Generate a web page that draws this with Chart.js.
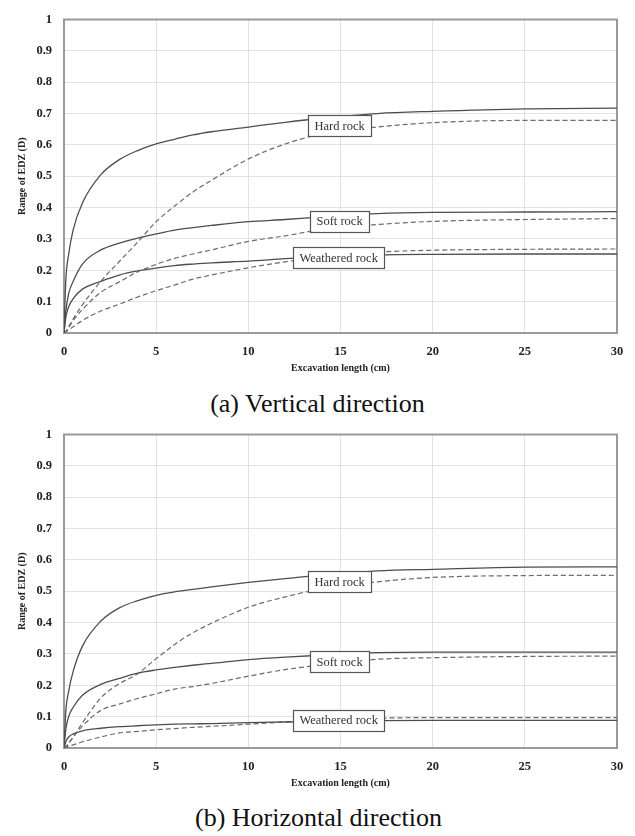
<!DOCTYPE html>
<html>
<head>
<meta charset="utf-8">
<script src="https://cdn.jsdelivr.net/npm/chart.js@4.4.1/dist/chart.umd.min.js"></script>
<style>
  html, body { margin: 0; padding: 0; background: #fff; }
  body { width: 635px; height: 836px; position: relative; overflow: hidden; }
  .wrap { position: absolute; left: 0; width: 635px; height: 380px; }
  .cap { position: absolute; left: 0; width: 635px; text-align: center; line-height: 26px;
         font-family: "Liberation Serif", "Times New Roman", serif; font-size: 26px; color: #111; }
</style>
</head>
<body>
<div class="wrap" style="top:0px"><canvas id="c1" width="635" height="380"></canvas></div>
<div class="cap" id="cap1" style="top:391px; left:0px">(a) Vertical direction</div>
<div class="wrap" style="top:415px"><canvas id="c2" width="635" height="380"></canvas></div>
<div class="cap" id="cap2" style="top:805px; left:1px">(b) Horizontal direction</div>
<script>
// ---- data ----
const excavation = [0, 0.1, 0.25, 0.5, 1, 2, 3, 4, 5, 6, 7, 8, 10, 12, 14, 17, 20, 25, 30];
const xTickLabels = ['0', '5', '10', '15', '20', '25', '30'];
const yTickLabels = ['0', '0.1', '0.2', '0.3', '0.4', '0.5', '0.6', '0.7', '0.8', '0.9', '1'];
const rockTypes = ['Hard rock', 'Soft rock', 'Weathered rock'];

// (a) Vertical direction
const hardV_solid = [0, 0.17, 0.25, 0.33, 0.415, 0.505, 0.553, 0.582, 0.603, 0.618, 0.632, 0.642, 0.657, 0.672, 0.685, 0.700, 0.707, 0.715, 0.717];
const hardV_dash  = [0, 0.005, 0.02, 0.045, 0.09, 0.165, 0.228, 0.29, 0.355, 0.405, 0.45, 0.487, 0.555, 0.603, 0.635, 0.657, 0.671, 0.678, 0.678];
const softV_solid = [0, 0.07, 0.125, 0.165, 0.22, 0.265, 0.287, 0.303, 0.316, 0.328, 0.336, 0.343, 0.355, 0.362, 0.37, 0.381, 0.385, 0.386, 0.387];
const softV_dash  = [0, 0.005, 0.018, 0.04, 0.075, 0.13, 0.163, 0.195, 0.219, 0.238, 0.252, 0.265, 0.292, 0.31, 0.33, 0.346, 0.356, 0.362, 0.365];
const weaV_solid  = [0, 0.05, 0.083, 0.11, 0.14, 0.165, 0.185, 0.198, 0.207, 0.215, 0.22, 0.224, 0.229, 0.237, 0.243, 0.249, 0.251, 0.252, 0.252];
const weaV_dash   = [0, 0.003, 0.01, 0.02, 0.04, 0.07, 0.092, 0.115, 0.135, 0.153, 0.172, 0.185, 0.208, 0.227, 0.243, 0.258, 0.264, 0.267, 0.268];

// (b) Horizontal direction
const hardH_solid = [0, 0.12, 0.18, 0.245, 0.325, 0.405, 0.447, 0.47, 0.487, 0.498, 0.506, 0.514, 0.528, 0.54, 0.552, 0.565, 0.57, 0.577, 0.578];
const hardH_dash  = [0, 0.004, 0.015, 0.035, 0.08, 0.16, 0.205, 0.237, 0.285, 0.33, 0.368, 0.398, 0.449, 0.482, 0.508, 0.53, 0.544, 0.55, 0.551];
const softH_solid = [0, 0.06, 0.1, 0.13, 0.168, 0.203, 0.222, 0.239, 0.249, 0.257, 0.264, 0.27, 0.282, 0.29, 0.296, 0.304, 0.306, 0.306, 0.306];
const softH_dash  = [0, 0.004, 0.015, 0.035, 0.07, 0.12, 0.14, 0.158, 0.173, 0.188, 0.196, 0.206, 0.229, 0.25, 0.265, 0.283, 0.288, 0.292, 0.293];
const weaH_solid  = [0, 0.02, 0.035, 0.045, 0.055, 0.063, 0.068, 0.071, 0.074, 0.076, 0.077, 0.078, 0.081, 0.083, 0.085, 0.087, 0.088, 0.088, 0.088];
const weaH_dash   = [0, 0.002, 0.006, 0.01, 0.02, 0.035, 0.048, 0.053, 0.058, 0.062, 0.066, 0.069, 0.076, 0.083, 0.089, 0.095, 0.097, 0.097, 0.097];

// label-box anchors (data coordinates)
const labelXV = [14.95, 14.95, 14.9];
const labelYV = [0.662, 0.357, 0.24];
const labelXH = [14.95, 14.95, 14.9];
const labelYH = [0.531, 0.275, 0.089];

// ---- helpers ----
const SERIF = '"Liberation Serif", "Times New Roman", serif';
function pts(ys) { return excavation.map((x, i) => ({ x: x, y: ys[i] })); }
function solid(label, ys) {
  return { label, data: pts(ys), borderColor: '#4d4d4d', borderWidth: 1.3, pointRadius: 0,
           cubicInterpolationMode: 'monotone', fill: false };
}
function dashed(label, ys) {
  return { label, data: pts(ys), borderColor: '#6a6a6a', borderWidth: 1.2, borderDash: [5, 3],
           pointRadius: 0, cubicInterpolationMode: 'monotone', fill: false };
}

const framePlugin = {
  id: 'frame',
  beforeDatasetsDraw(chart) {
    const a = chart.chartArea, ctx = chart.ctx;
    ctx.save();
    ctx.strokeStyle = '#9a9a9a';
    ctx.lineWidth = 2;
    ctx.strokeRect(a.left, a.top, a.right - a.left, a.bottom - a.top);
    ctx.restore();
  }
};

const boxPlugin = {
  id: 'boxes',
  afterDatasetsDraw(chart, args, opts) {
    const ctx = chart.ctx, xs = chart.scales.x, ys = chart.scales.y;
    ctx.save();
    ctx.font = '12.5px ' + SERIF;
    ctx.textAlign = 'center';
    ctx.textBaseline = 'middle';
    opts.labels.forEach((t, i) => {
      const px = xs.getPixelForValue(opts.xs[i]);
      const py = ys.getPixelForValue(opts.ys[i]);
      const w = ctx.measureText(t).width + 13;
      const h = 21;
      ctx.fillStyle = '#fff';
      ctx.fillRect(px - w / 2, py - h / 2, w, h);
      ctx.strokeStyle = '#555';
      ctx.lineWidth = 1.2;
      ctx.strokeRect(Math.round(px - w / 2) + 0.5, Math.round(py - h / 2) + 0.5, Math.round(w), h);
      ctx.fillStyle = '#333';
      ctx.fillText(t, px, py + 1);
    });
    ctx.restore();
  }
};

function makeChart(id, series, lx, ly) {
  const datasets = [
    solid('Hard rock', series[0]), dashed('Hard rock (dashed)', series[1]),
    solid('Soft rock', series[2]), dashed('Soft rock (dashed)', series[3]),
    solid('Weathered rock', series[4]), dashed('Weathered rock (dashed)', series[5])
  ];
  return new Chart(document.getElementById(id), {
    type: 'line',
    data: { datasets },
    plugins: [framePlugin, boxPlugin],
    options: {
      responsive: false, animation: false, devicePixelRatio: 1,
      layout: { padding: { top: 14, right: 18, left: 0, bottom: 0 } },
      plugins: {
        legend: { display: false }, tooltip: { enabled: false },
        boxes: { labels: rockTypes, xs: lx, ys: ly }
      },
      scales: {
        x: {
          type: 'linear', min: 0, max: 30,
          afterFit(s) { s.height = 47; },
          afterBuildTicks(s) { s.ticks = xTickLabels.map(v => ({ value: parseFloat(v) })); },
          grid: { color: '#e2e2e2', lineWidth: 1, drawTicks: false },
          border: { display: false },
          ticks: { padding: 11, color: '#222', font: { family: SERIF, size: 12.5, weight: 'bold' },
                   maxRotation: 0, callback: (v, i) => xTickLabels[i] },
          title: { display: true, text: 'Excavation length (cm)', color: '#222',
                   font: { family: SERIF, size: 10, weight: 'bold' }, padding: { top: 0, bottom: 6 } }
        },
        y: {
          type: 'linear', min: 0, max: 1,
          afterFit(s) { s.width = 64; },
          afterBuildTicks(s) { s.ticks = yTickLabels.map(v => ({ value: parseFloat(v) })); },
          grid: { color: '#e2e2e2', lineWidth: 1, drawTicks: false },
          border: { display: false },
          ticks: { padding: 12, color: '#222', font: { family: SERIF, size: 12.5, weight: 'bold' },
                   callback: (v, i) => yTickLabels[i] },
          title: { display: true, text: 'Range of EDZ (D)', color: '#222',
                   font: { family: SERIF, size: 10, weight: 'bold' }, padding: { top: 16, bottom: 0 } }
        }
      }
    }
  });
}

makeChart('c1', [hardV_solid, hardV_dash, softV_solid, softV_dash, weaV_solid, weaV_dash], labelXV, labelYV);
makeChart('c2', [hardH_solid, hardH_dash, softH_solid, softH_dash, weaH_solid, weaH_dash], labelXH, labelYH);
</script>
</body>
</html>
